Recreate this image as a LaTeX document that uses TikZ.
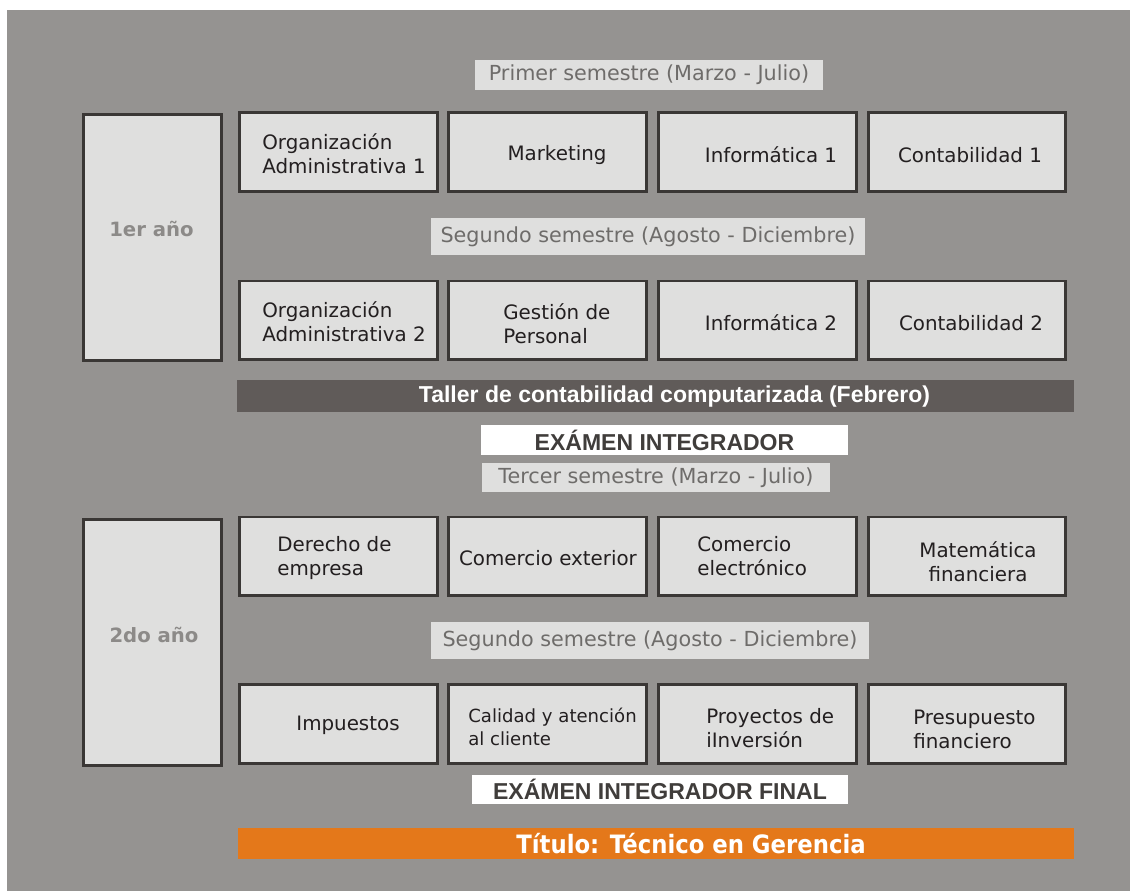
\documentclass[tikz,border=0pt]{standalone}
\usepackage{fontspec}
\setmainfont{DejaVu Sans}
\newfontfamily\arialfont{Liberation Sans}
\newfontfamily\narrowfont{DejaVu Sans}[FakeStretch=0.9]
\usetikzlibrary{positioning, calc}
\definecolor{bgGray}{RGB}{149,147,145}
\definecolor{boxFill}{RGB}{223,223,222}
\definecolor{boxLine}{RGB}{58,55,53}
\definecolor{txtDark}{RGB}{35,31,32}
\definecolor{semText}{RGB}{110,108,106}
\definecolor{yearText}{RGB}{140,138,136}
\definecolor{tallerGray}{RGB}{96,91,89}
\definecolor{examText}{RGB}{64,61,59}
\definecolor{tituloOrange}{RGB}{228,120,26}

\tikzset{
  course/.style={draw=boxLine, line width=1.7pt, fill=boxFill, minimum width=3.96cm, minimum height=1.58cm, inner sep=0},
  yearbox/.style={draw=boxLine, line width=1.7pt, fill=boxFill, minimum width=2.76cm, minimum height=4.92cm, inner sep=0},
  coursetxt/.style={text=txtDark, inner sep=0, align=left, font=\fontsize{11.3}{13.6}\selectfont},
  semlabel/.style={fill=boxFill, text=semText, inner sep=0, font=\fontsize{11.8}{14}\selectfont},
  yeartxt/.style={text=yearText, inner sep=0, font=\fontsize{11.2}{13}\selectfont\bfseries},
  exambox/.style={fill=white, text=examText, inner sep=0, font=\arialfont\fontsize{13.1}{15}\selectfont\bfseries},
  bar/.style={inner sep=0, minimum height=0.63cm},
  bartxt/.style={text=white, inner sep=0}
}

\begin{document}
\begin{tikzpicture}[x=0.02cm, y=-0.02cm]
  \useasboundingbox (0,0) rectangle (1130,891);
  % background
  \fill[bgGray] (7,10) rectangle (1130,891);

  % 1er año
  \node[yearbox] (y1) at (152.5,237.5) {};
  \node[yeartxt] (y1t) at (151.5,229) {1er año};
  \node[semlabel, minimum width=6.96cm, minimum height=0.6cm] (s1) at (649,75) {Primer semestre (Marzo - Julio)};

  % first semester
  \node[course] (oa1) at (338.5,152) {};
  \node[course] (mkt) at (547.5,152) {};
  \node[course] (inf1) at (757.5,152) {};
  \node[course] (con1) at (967,152) {};
  \node[coursetxt, anchor=west] (oa1t) at (262,154) {Organización\\Administrativa 1};
  \node[coursetxt] (mktt) at (557,155) {Marketing};
  \node[coursetxt] (inf1t) at (771,155) {Informática 1};
  \node[coursetxt] (con1t) at (970,155) {Contabilidad 1};

  \node[semlabel, minimum width=8.68cm, minimum height=0.74cm] (s2) at (648,236.5) {Segundo semestre (Agosto - Diciembre)};

  % second semester
  \node[course] (oa2) at (338.5,320.5) {};
  \node[course] (gp) at (547.5,320.5) {};
  \node[course] (inf2) at (757.5,320.5) {};
  \node[course] (con2) at (967,320.5) {};
  \node[coursetxt, anchor=west] (oa2t) at (262,322) {Organización\\Administrativa 2};
  \node[coursetxt, anchor=west] (gpt) at (503,324) {Gestión de\\Personal};
  \node[coursetxt] (inf2t) at (771,323) {Informática 2};
  \node[coursetxt] (con2t) at (971,323) {Contabilidad 2};

  % taller
  \node[bar, fill=tallerGray, minimum width=16.74cm] (taller) at (655.5,396) {};
  \node[bartxt, font=\arialfont\fontsize{13.1}{15}\selectfont\bfseries] (tallert) at (674.5,397) {Taller de contabilidad computarizada (Febrero)};

  \node[exambox, minimum width=7.34cm, minimum height=0.6cm] (ex1) at (664.5,440) {EXÁMEN INTEGRADOR};

  % 2do año
  \node[semlabel, minimum width=6.96cm, minimum height=0.58cm] (s3) at (656,477.5) {Tercer semestre (Marzo - Julio)};
  \node[yearbox, minimum height=4.94cm] (y2) at (152.5,642.5) {};
  \node[yeartxt] (y2t) at (154,635) {2do año};

  % third semester
  \node[course] (der) at (338.5,556.5) {};
  \node[course] (cex) at (547.5,556.5) {};
  \node[course] (cel) at (757.5,556.5) {};
  \node[course] (mat) at (967,556.5) {};
  \node[coursetxt, anchor=west] (dert) at (277,558) {Derecho de\\empresa};
  \node[coursetxt] (cext) at (548,558) {Comercio exterior};
  \node[coursetxt, anchor=west] (celt) at (697,556) {Comercio\\electrónico};
  \node[coursetxt, align=center] (matt) at (978,562) {Matemática\\financiera};

  \node[semlabel, minimum width=8.76cm, minimum height=0.74cm] (s4) at (650,640.5) {Segundo semestre (Agosto - Diciembre)};

  % fourth semester
  \node[course] (imp) at (338.5,724) {};
  \node[course] (cal) at (547.5,724) {};
  \node[course] (pro) at (757.5,724) {};
  \node[course] (pre) at (967,724) {};
  \node[coursetxt] (impt) at (348,725) {Impuestos};
  \node[coursetxt, anchor=west, font=\fontsize{10.3}{12.8}\selectfont] (calt) at (468,727) {Calidad y atención\\al cliente};
  \node[coursetxt, anchor=west] (prot) at (706,728) {Proyectos de\\iInversión};
  \node[coursetxt, anchor=west] (pret) at (913,729) {Presupuesto\\financiero};

  \node[exambox, minimum width=7.52cm, minimum height=0.58cm] (ex2) at (660,789.5) {EXÁMEN INTEGRADOR FINAL};

  % titulo
  \node[bar, fill=tituloOrange, minimum width=16.72cm, minimum height=0.62cm] (titulo) at (656,843.5) {};
  \node[bartxt, font=\narrowfont\fontsize{14.4}{16}\selectfont\bfseries] (titulot) at (691,844) {Título: Técnico en Gerencia};
\end{tikzpicture}
\end{document}
